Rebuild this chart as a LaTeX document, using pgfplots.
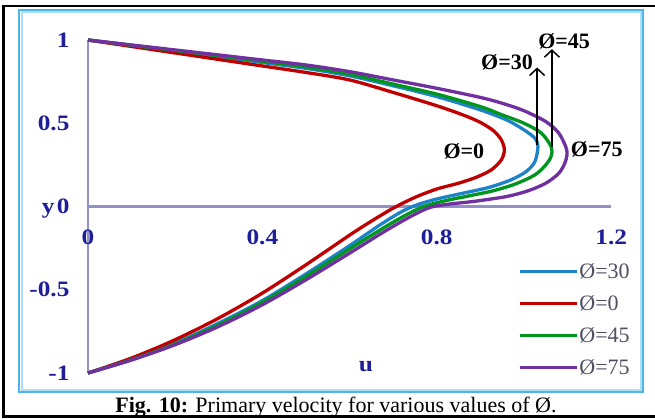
\documentclass[border=0pt]{standalone}
\usepackage{fontspec}
\setmainfont{Liberation Serif}
\newfontfamily\tickfont[FakeStretch=1.15]{Liberation Serif}
\usepackage{pgfplots}
\pgfplotsset{compat=1.18}
\usetikzlibrary{arrows.meta}
\definecolor{cblue}{RGB}{30,130,200}
\definecolor{cred}{RGB}{192,0,0}
\definecolor{cgreen}{RGB}{0,150,30}
\definecolor{cpurple}{RGB}{112,48,160}
\definecolor{axcol}{RGB}{145,145,195}
\definecolor{tickcol}{RGB}{30,30,150}
\definecolor{legcol}{RGB}{80,80,100}
\definecolor{boxout}{RGB}{80,180,230}
\definecolor{boxin}{RGB}{170,225,245}
\newcommand{\bigfont}{\fontsize{22}{26}\selectfont}
\begin{document}
\begin{tikzpicture}
\useasboundingbox (0pt,0pt) rectangle (655pt,418pt);
\fill[white] (0pt,0pt) rectangle (655pt,418pt);
\draw[black, line width=2.5pt] (3.5pt,1.5pt) rectangle (690pt,412pt);
\draw[boxout, line width=2.5pt] (19pt,26pt) rectangle (643pt,408pt);
\draw[boxin, line width=2pt] (21.5pt,28.5pt) rectangle (640.5pt,405.5pt);
\node[anchor=base, font=\bigfont] at (336pt,6pt) {\textbf{Fig. 10:} Primary velocity for various values of Ø.};
\begin{axis}[
  at={(88pt,45pt)}, anchor=south west,
  scale only axis, width=523.2pt, height=333pt,
  xmin=0, xmax=1.2, ymin=-1, ymax=1,
  clip=false,
  axis lines=middle,
  axis line style={draw=axcol, line width=2.2pt, -},
  xtick={0,0.4,0.8,1.2}, xticklabels={0,0.4,0.8,1.2},
  ytick={-1,-0.5,0,0.5,1}, yticklabels={-1,-0.5,0,0.5,1},
  major tick length=0pt, tick style={draw=none},
  hide obscured x ticks=false, hide obscured y ticks=false,
  ticklabel style={font=\bigfont\tickfont\bfseries, text=tickcol},
  xticklabel style={yshift=-20pt},
  yticklabel style={xshift=-15pt},
  xlabel={u}, ylabel={y},
  xlabel style={at={(rel axis cs:0.531,0.018)}, anchor=center, font=\bigfont\tickfont\bfseries, text=tickcol},
  ylabel style={at={(rel axis cs:0,0.4775)}, anchor=base east, xshift=-30pt, rotate=0, font=\bigfont\tickfont\bfseries, text=tickcol},
  legend style={draw=none, fill=none, at={(axis cs:0.986,-0.335)}, anchor=north west,
    inner sep=0pt, outer sep=0pt, row sep=14pt, font=\bigfont, text=legcol,
    nodes={inner sep=1pt, text height=15pt, text depth=1pt}},
  legend cell align=left,
  legend image code/.code={\draw[#1, line width=3.5pt] (0pt,0pt) -- (57pt,0pt);},
  every axis plot/.append style={line width=3.3pt},
]
\addplot[cblue, smooth, tension=0.5] coordinates {
(0,1) (0.1,0.967) (0.2,0.934) (0.3,0.90) (0.4,0.865) (0.5,0.83) (0.6,0.785) (0.7,0.725)
(0.8,0.66) (0.9,0.58) (0.96,0.52) (1.0,0.46) (1.025,0.41) (1.032,0.36)
(1.025,0.27) (1.005,0.21) (0.97,0.16) (0.92,0.115) (0.86,0.08) (0.8,0.045) (0.755,0.01)
(0.72,-0.03) (0.67,-0.11) (0.6,-0.235) (0.5,-0.405) (0.4,-0.565) (0.3,-0.70)
(0.2,-0.82) (0.1,-0.918) (0,-1)};
\addlegendentry{Ø=30}
\addplot[cred, smooth, tension=0.5] coordinates {
(0,1) (0.2,0.922) (0.4,0.844) (0.5,0.805) (0.6,0.76) (0.7,0.685)
(0.8,0.605) (0.86,0.55) (0.9,0.505) (0.93,0.455) (0.948,0.40) (0.955,0.34)
(0.948,0.28) (0.925,0.22) (0.89,0.175) (0.85,0.14) (0.8,0.105) (0.75,0.055) (0.7,-0.01)
(0.65,-0.088) (0.6,-0.172) (0.5,-0.35) (0.4,-0.52) (0.3,-0.67) (0.2,-0.80)
(0.1,-0.91) (0,-1)};
\addlegendentry{Ø=0}
\addplot[cgreen, smooth, tension=0.5] coordinates {
(0,1) (0.1,0.968) (0.2,0.937) (0.3,0.905) (0.4,0.872) (0.5,0.838) (0.6,0.795) (0.7,0.735)
(0.8,0.675) (0.9,0.60) (0.95,0.55) (1.0,0.50) (1.04,0.44) (1.063,0.355)
(1.062,0.3) (1.05,0.25) (1.025,0.19) (0.98,0.135) (0.93,0.095) (0.876,0.065) (0.82,0.035)
(0.77,0) (0.73,-0.05) (0.68,-0.125) (0.6,-0.255) (0.5,-0.42) (0.4,-0.575) (0.3,-0.71)
(0.2,-0.825) (0.1,-0.92) (0,-1)};
\addlegendentry{Ø=45}
\addplot[cpurple, smooth, tension=0.5] coordinates {
(0,1) (0.1,0.97) (0.2,0.94) (0.3,0.91) (0.4,0.88) (0.5,0.85) (0.6,0.81) (0.7,0.76)
(0.8,0.71) (0.9,0.655) (0.95,0.62) (1.0,0.575) (1.05,0.51) (1.08,0.44) (1.098,0.34)
(1.095,0.27) (1.08,0.2) (1.05,0.14) (1.01,0.095) (0.96,0.06) (0.883,0.03) (0.83,0.015)
(0.785,-0.005) (0.74,-0.06) (0.68,-0.15) (0.6,-0.28) (0.5,-0.44) (0.4,-0.59)
(0.3,-0.72) (0.2,-0.83) (0.1,-0.922) (0,-1)};
\addlegendentry{Ø=75}
\addplot[black, line width=1.5pt, -{Straight Barb[length=7pt,width=15pt]}, forget plot] coordinates {(1.03,0.37) (1.03,0.835)};
\addplot[black, line width=1.5pt, -{Straight Barb[length=7pt,width=15pt]}, forget plot] coordinates {(1.064,0.36) (1.064,0.945)};
\node[font=\bigfont\bfseries] at (axis cs:0.961,0.865) {Ø=30};
\node[font=\bigfont\bfseries] at (axis cs:1.092,0.99) {Ø=45};
\node[font=\bigfont\bfseries] at (axis cs:0.862,0.33) {Ø=0};
\node[font=\bigfont\bfseries] at (axis cs:1.167,0.342) {Ø=75};
\end{axis}
\end{tikzpicture}
\end{document}
